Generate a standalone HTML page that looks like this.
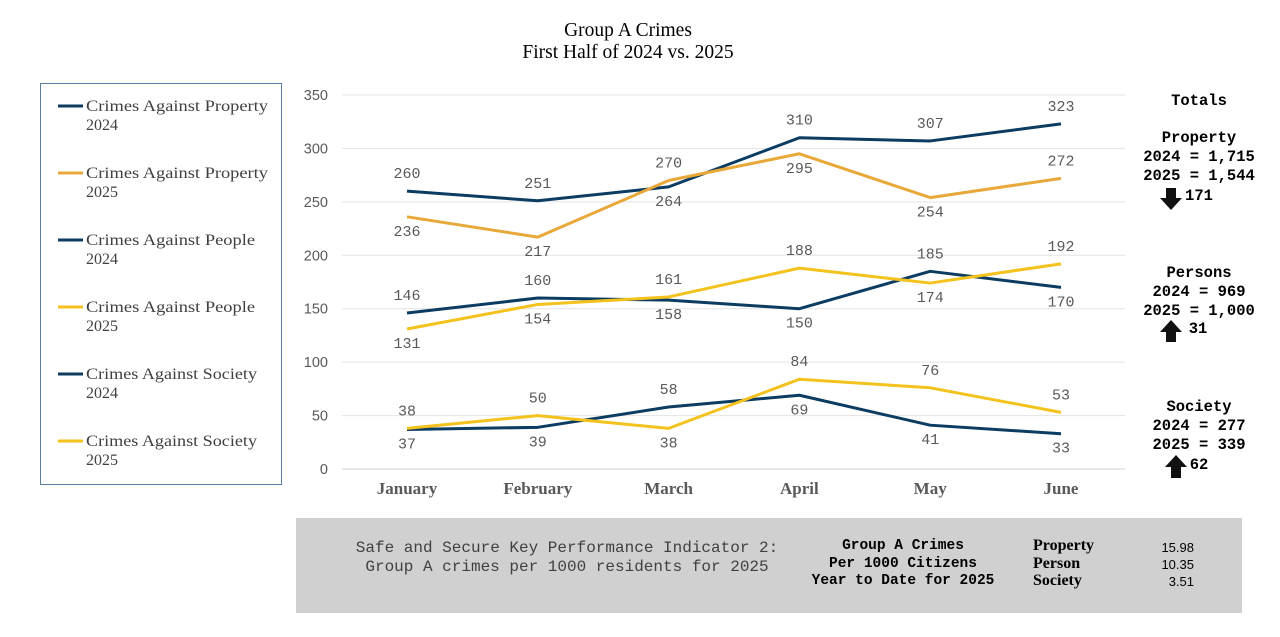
<!DOCTYPE html>
<html><head><meta charset="utf-8"><style>
body{margin:0;width:1280px;height:637px;background:#fff;overflow:hidden;position:relative;font-family:"Liberation Serif",serif}
</style></head><body>
<svg width="1280" height="637" style="position:absolute;left:0;top:0" id="svg">
<text x="628" y="36" text-anchor="middle" font-family="Liberation Serif" font-size="19.5" fill="#000">Group A Crimes</text>
<text x="628" y="58" text-anchor="middle" font-family="Liberation Serif" font-size="19.5" fill="#000">First Half of 2024 vs. 2025</text>
<rect x="40.5" y="83.5" width="241" height="401" fill="none" stroke="#5a7fa3" stroke-width="1"/>
<g id="grid"></g><g id="lines"></g><g id="legend"></g>
<g font-family="Liberation Mono" font-weight="bold" font-size="15.5" fill="#000" text-anchor="middle">
<text x="1199" y="105">Totals</text>
<text x="1199" y="142">Property</text><text x="1199" y="161">2024 = 1,715</text><text x="1199" y="180">2025 = 1,544</text>
<text x="1199" y="200">171</text>
<text x="1199" y="277">Persons</text><text x="1199" y="296">2024 = 969</text><text x="1199" y="315">2025 = 1,000</text><text x="1198" y="333">31</text>
<text x="1199" y="411">Society</text><text x="1199" y="430">2024 = 277</text><text x="1199" y="449">2025 = 339</text><text x="1199" y="469">62</text>
</g>
<path d="M1166 188h10v10h6l-11 12l-11-12h6z" fill="#111"/>
<path d="M1171 320l11 12h-6v10h-10v-10h-6z" fill="#111"/>
<path d="M1176 455l11 12h-6v11h-10v-11h-6z" fill="#111"/>
<rect x="296" y="518" width="946" height="95" fill="#d0d0d0"/>
<g font-family="Liberation Mono" font-size="16" fill="#404040" text-anchor="middle">
<text x="567" y="552">Safe and Secure Key Performance Indicator 2:</text>
<text x="567" y="571">Group A crimes per 1000 residents for 2025</text>
</g>
<g font-family="Liberation Mono" font-weight="bold" font-size="14.5" fill="#000" text-anchor="middle">
<text x="903" y="549">Group A Crimes</text><text x="903" y="567">Per 1000 Citizens</text><text x="903" y="584">Year to Date for 2025</text>
</g>
<g font-family="Liberation Serif" font-weight="bold" font-size="16" fill="#000">
<text x="1033" y="550">Property</text><text x="1033" y="568">Person</text><text x="1033" y="585">Society</text>
</g>
<g font-family="Liberation Sans" font-size="13" fill="#000" text-anchor="end">
<text x="1194" y="552">15.98</text><text x="1194" y="569">10.35</text><text x="1194" y="586">3.51</text>
</g>
</svg>
<script>
const months=["January","February","March","April","May","June"];
const yTicks=[0,50,100,150,200,250,300,350];
const propertyA=[260,251,264,310,307,323];
const propertyB=[236,217,270,295,254,272];
const peopleA=[146,160,158,150,185,170];
const peopleB=[131,154,161,188,174,192];
const societyA=[37,39,58,69,41,33];
const societyB=[38,50,38,84,76,53];
const legendNames=["Crimes Against Property|2024","Crimes Against Property|2025","Crimes Against People|2024","Crimes Against People|2025","Crimes Against Society|2024","Crimes Against Society|2025"];
const legendWidths=[182,182,169,169,171,171];
const NS="http://www.w3.org/2000/svg";
const x=i=>407+i*130.8;
const y=v=>469-v*(374/350);
function mk(t,a,p){const e=document.createElementNS(NS,t);for(const k in a)e.setAttribute(k,a[k]);if(p)p.appendChild(e);return e;}
const grid=document.getElementById('grid');
yTicks.forEach(t=>{
 const l=mk('line',{x1:342,x2:1125,y1:y(t),y2:y(t),stroke:t===0?'#d0d0d0':'#e3e3e3','stroke-width':1},grid);
 
 
 const tx=mk('text',{x:328,y:y(t)+5,'text-anchor':'end','font-family':'Liberation Sans','font-size':14.5,fill:'#595959'},grid);
 tx.textContent=t;
 
 
});
months.forEach((m,i)=>{
 const tx=mk('text',{x:x(i),y:494,'text-anchor':'middle','font-family':'Liberation Serif','font-weight':'bold','font-size':17,fill:'#595959'},grid);
 tx.textContent=m;
 
 
});
const BLUE='#0c3c61',ORANGE='#e8a93a',YELLOW='#f4c21c';
const series=[
 {d:propertyA,c:BLUE,n:'property-2024',p:'aabaaa'.split('')},
 {d:propertyB,c:ORANGE,n:'property-2025',p:'bbabba'.split('')},
 {d:peopleA,c:BLUE,n:'people-2024',p:'aabbab'.split('')},
 {d:peopleB,c:YELLOW,n:'people-2025',p:'bbaaba'.split('')},
 {d:societyA,c:BLUE,n:'society-2024',p:'bbabbb'.split('')},
 {d:societyB,c:YELLOW,n:'society-2025',p:'aabaaa'.split('')}
];
const lines=document.getElementById('lines');
series.forEach(s=>{
 const pl=mk('polyline',{points:s.d.map((v,i)=>x(i)+','+y(v)).join(' '),fill:'none',stroke:s.c,'stroke-width':3,'stroke-linejoin':'round'},lines);
 
 
});
series.forEach(s=>{
 s.d.forEach((v,i)=>{
  const off=s.p[i]==='a'?-13:19;
  const t=mk('text',{x:x(i),y:y(v)+off,'text-anchor':'middle','font-family':'Liberation Mono','font-size':15,fill:'#595959'},lines);
  t.textContent=v;
  
  
 });
});
const lg=document.getElementById('legend');
legendNames.forEach((n,i)=>{
 const yy=106+i*67;
 const l=mk('line',{x1:58,x2:83,y1:yy,y2:yy,stroke:series[i].c,'stroke-width':3},lg);
 
 
 const parts=n.split('|');
 parts.forEach((p,k)=>{
  const a={x:86,y:yy+5+k*19,'font-family':'Liberation Serif','font-size':16,fill:'#404040'};
  if(k===0){a.textLength=legendWidths[i];a.lengthAdjust='spacingAndGlyphs';}
  const t=mk('text',a,lg);
  t.textContent=p;
  
  
 });
});
</script>
</body></html>
